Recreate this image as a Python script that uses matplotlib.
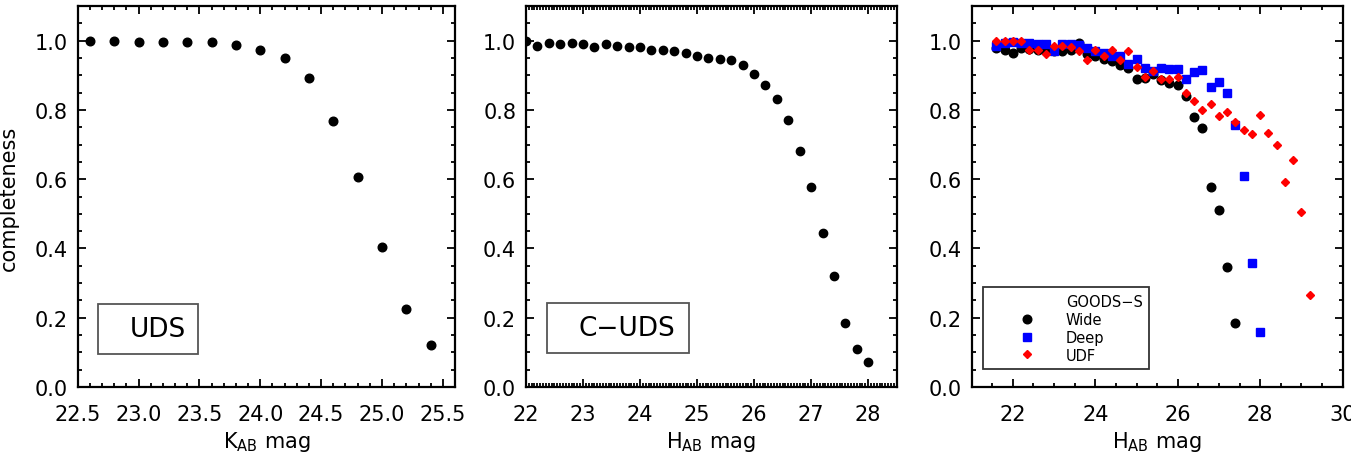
import matplotlib
matplotlib.use('Agg')
import matplotlib.pyplot as plt
from matplotlib.ticker import MultipleLocator, FormatStrFormatter
from matplotlib.patches import Rectangle
from matplotlib.lines import Line2D

plt.rcParams['font.family'] = ['DejaVu Sans']
plt.rcParams['mathtext.default'] = 'regular'

# ---------------- data ----------------
uds_mag = [22.6, 22.8, 23.0, 23.2, 23.4, 23.6, 23.8, 24.0, 24.2, 24.4,
           24.6, 24.8, 25.0, 25.2, 25.4]
uds_comp = [0.998, 0.998, 0.997, 0.997, 0.997, 0.995, 0.988, 0.974, 0.950,
            0.891, 0.769, 0.606, 0.403, 0.226, 0.121]

cuds_mag = [22.0, 22.2, 22.4, 22.6, 22.8, 23.0, 23.2, 23.4, 23.6, 23.8,
            24.0, 24.2, 24.4, 24.6, 24.8, 25.0, 25.2, 25.4, 25.6, 25.8,
            26.0, 26.2, 26.4, 26.6, 26.8, 27.0, 27.2, 27.4, 27.6, 27.8, 28.0]
cuds_comp = [1.000, 0.984, 0.993, 0.991, 0.992, 0.991, 0.982, 0.990, 0.984,
             0.982, 0.981, 0.973, 0.973, 0.970, 0.965, 0.956, 0.950, 0.947,
             0.944, 0.930, 0.903, 0.872, 0.831, 0.770, 0.680, 0.576, 0.446,
             0.320, 0.186, 0.111, 0.073]

wide_mag = [21.6, 21.8, 22.0, 22.2, 22.4, 22.6, 22.8, 23.0, 23.2, 23.4,
            23.6, 23.8, 24.0, 24.2, 24.4, 24.6, 24.8, 25.0, 25.2, 25.4,
            25.6, 25.8, 26.0, 26.2, 26.4, 26.6, 26.8, 27.0, 27.2, 27.4]
wide_comp = [0.980, 0.974, 0.964, 0.979, 0.975, 0.972, 0.970, 0.969, 0.971,
             0.972, 0.993, 0.961, 0.957, 0.948, 0.940, 0.930, 0.921, 0.890,
             0.893, 0.905, 0.887, 0.877, 0.872, 0.841, 0.779, 0.748, 0.577,
             0.511, 0.346, 0.186]

deep_mag = [21.6, 21.8, 22.0, 22.2, 22.4, 22.6, 22.8, 23.0, 23.2, 23.4,
            23.6, 23.8, 24.0, 24.2, 24.4, 24.6, 24.8, 25.0, 25.2, 25.4,
            25.6, 25.8, 26.0, 26.2, 26.4, 26.6, 26.8, 27.0, 27.2, 27.4,
            27.6, 27.8, 28.0]
deep_comp = [0.984, 0.992, 0.996, 0.993, 0.993, 0.990, 0.990, 0.969, 0.990,
             0.990, 0.986, 0.980, 0.969, 0.964, 0.957, 0.955, 0.932, 0.948,
             0.922, 0.911, 0.921, 0.919, 0.919, 0.890, 0.909, 0.916, 0.867,
             0.882, 0.848, 0.756, 0.610, 0.357, 0.160]

udf_mag = [21.6, 21.8, 22.0, 22.2, 22.4, 22.6, 22.8, 23.0, 23.2, 23.4,
           23.6, 23.8, 24.0, 24.2, 24.4, 24.6, 24.8, 25.0, 25.2, 25.4,
           25.6, 25.8, 26.0, 26.2, 26.4, 26.6, 26.8, 27.0, 27.2, 27.4,
           27.6, 27.8, 28.0, 28.2, 28.4, 28.6, 28.8, 29.0, 29.2]
udf_comp = [1.000, 1.000, 1.000, 1.000, 0.972, 0.974, 0.961, 0.985, 0.985,
            0.983, 0.969, 0.945, 0.974, 0.957, 0.974, 0.945, 0.969, 0.925,
            0.894, 0.913, 0.889, 0.890, 0.894, 0.848, 0.826, 0.799, 0.816,
            0.783, 0.795, 0.764, 0.743, 0.729, 0.785, 0.732, 0.698, 0.593,
            0.654, 0.506, 0.266]

y_ticks = [0.0, 0.2, 0.4, 0.6, 0.8, 1.0]
legend_title = 'GOODS\u2212S'
legend_labels = ['Wide', 'Deep', 'UDF']

# ---------------- figure ----------------
fig = plt.figure(figsize=(13.51, 4.6), dpi=100)
bottom, height = 0.1565, 0.8283
ax1 = fig.add_axes([0.0575, bottom, 0.2793, height])
ax2 = fig.add_axes([0.3893, bottom, 0.2744, height])
ax3 = fig.add_axes([0.7192, bottom, 0.2746, height])


def style(ax, xmaj, xmin, xfmt):
    ax.set_ylim(0.0, 1.1)
    ax.set_yticks(y_ticks)
    ax.yaxis.set_minor_locator(MultipleLocator(0.05))
    ax.yaxis.set_major_formatter(FormatStrFormatter('%.1f'))
    ax.xaxis.set_major_locator(MultipleLocator(xmaj))
    ax.xaxis.set_minor_locator(MultipleLocator(xmin))
    ax.xaxis.set_major_formatter(FormatStrFormatter(xfmt))
    ax.tick_params(which='both', direction='in', top=True, right=True,
                   width=1.3, labelsize=15)
    ax.tick_params(which='major', length=6)
    ax.tick_params(which='minor', length=3)
    ax.tick_params(axis='x', pad=12)
    ax.tick_params(axis='y', pad=7)
    for s in ax.spines.values():
        s.set_linewidth(1.6)


# Panel 1: UDS
ax1.plot(uds_mag, uds_comp, 'o', color='black', ms=6.2, ls='none')
ax1.set_xlim(22.5, 25.6)
style(ax1, 0.5, 0.1, '%.1f')
ax1.set_xlabel('K$_{\\mathregular{AB}}$ mag', fontsize=15, labelpad=4)
ax1.add_patch(Rectangle((0.054, 0.087), 0.265, 0.131, transform=ax1.transAxes,
                        fill=False, edgecolor='#555555', lw=1.3))
ax1.text(0.213, 0.152, 'UDS', transform=ax1.transAxes, fontsize=19,
         ha='center', va='center')
fig.text(9 / 1351, 1 - 198 / 460, 'completeness', rotation=90, fontsize=15,
         ha='center', va='center')

# Panel 2: C-UDS
ax2.plot(cuds_mag, cuds_comp, 'o', color='black', ms=6.0, ls='none')
ax2.set_xlim(22.0, 28.5)
style(ax2, 1, 0.05, '%d')
ax2.set_xlabel('H$_{\\mathregular{AB}}$ mag', fontsize=15, labelpad=4)
ax2.add_patch(Rectangle((0.057, 0.089), 0.383, 0.131, transform=ax2.transAxes,
                        fill=False, edgecolor='#555555', lw=1.3))
ax2.text(0.272, 0.154, 'C\u2212UDS', transform=ax2.transAxes, fontsize=19,
         ha='center', va='center')

# Panel 3: GOODS-S
ax3.plot(wide_mag, wide_comp, 'o', color='black', ms=6.2, ls='none')
ax3.plot(deep_mag, deep_comp, 's', color='#0000ff', ms=6.0, ls='none')
ax3.plot(udf_mag, udf_comp, 'D', color='#ff0000', ms=4.3, ls='none')
ax3.set_xlim(21.0, 30.0)
style(ax3, 2, 0.5, '%d')
ax3.set_xlabel('H$_{\\mathregular{AB}}$ mag', fontsize=15, labelpad=4)

handles = [Line2D([], [], ls='none', marker=None),
           Line2D([], [], ls='none', marker='o', color='black', ms=6.2),
           Line2D([], [], ls='none', marker='s', color='#0000ff', ms=5.5),
           Line2D([], [], ls='none', marker='D', color='#ff0000', ms=4.0)]
leg = ax3.legend(handles, [legend_title] + legend_labels,
                 loc='lower left', bbox_to_anchor=(0.03, 0.047),
                 borderaxespad=0, fontsize=10.5, frameon=True, fancybox=False,
                 handlelength=5.2, handletextpad=0.05, labelspacing=0.2,
                 borderpad=0.45)
leg.get_frame().set_edgecolor('black')
leg.get_frame().set_linewidth(1.3)

fig.savefig('out.png', dpi=100)
